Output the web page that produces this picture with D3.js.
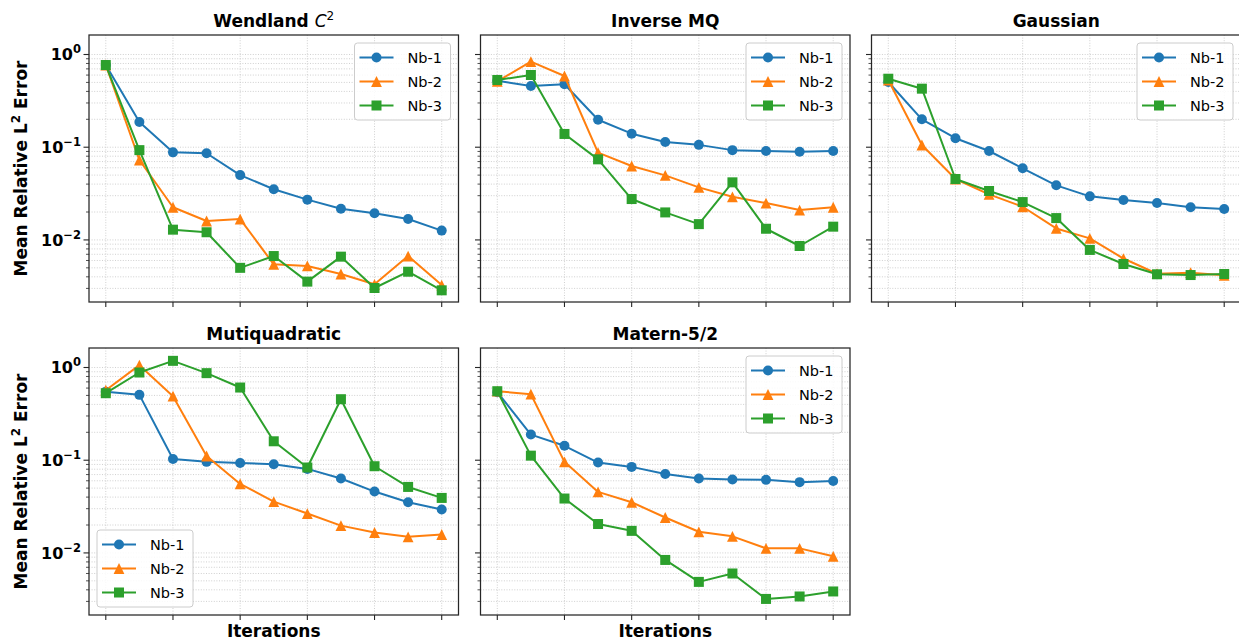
<!DOCTYPE html>
<html>
<head>
<meta charset="utf-8">
<script src="https://cdn.jsdelivr.net/npm/d3@7"></script>
<style>
  body { margin: 0; background: #fff; }
  svg { display: block; }
  text { font-family: "DejaVu Sans", sans-serif; fill: #000; }
</style>
</head>
<body>
<svg id="fig" width="1239" height="641"></svg>
<script>
// ---- data ---------------------------------------------------------------
const iterations = [0, 1, 2, 3, 4, 5, 6, 7, 8, 9, 10];
const xTicks = [0, 2, 4, 6, 8, 10];
const yMajorTicks = [1, 0.1, 0.01];
const yTickExponents = ["0", "\u22121", "\u22122"];
const seriesNames = ["Nb-1", "Nb-2", "Nb-3"];

const wendlandNb1 = [0.77, 0.187, 0.088, 0.086, 0.050, 0.0352, 0.0272, 0.0217, 0.0194, 0.0168, 0.0126];
const wendlandNb2 = [0.77, 0.0728, 0.0225, 0.0160, 0.0168, 0.00545, 0.00524, 0.00429, 0.00332, 0.0067, 0.00326];
const wendlandNb3 = [0.77, 0.093, 0.0129, 0.0121, 0.0050, 0.0067, 0.00355, 0.0066, 0.00303, 0.00454, 0.00286];

const inverseMqNb1 = [0.52, 0.457, 0.477, 0.198, 0.140, 0.114, 0.106, 0.093, 0.091, 0.0895, 0.091];
const inverseMqNb2 = [0.513, 0.837, 0.586, 0.0873, 0.0627, 0.0497, 0.0369, 0.0292, 0.025, 0.021, 0.0225];
const inverseMqNb3 = [0.531, 0.601, 0.139, 0.074, 0.0276, 0.0198, 0.0148, 0.0418, 0.0132, 0.0086, 0.0139];

const gaussianNb1 = [0.505, 0.20, 0.125, 0.091, 0.0592, 0.0388, 0.0295, 0.0269, 0.025, 0.0225, 0.0216];
const gaussianNb2 = [0.53, 0.1057, 0.0454, 0.031, 0.0228, 0.0133, 0.0104, 0.0063, 0.00432, 0.00443, 0.00415];
const gaussianNb3 = [0.548, 0.428, 0.0454, 0.0337, 0.0256, 0.0172, 0.0078, 0.0055, 0.00426, 0.00418, 0.00429];

const multiquadricNb1 = [0.546, 0.507, 0.103, 0.096, 0.0935, 0.0905, 0.0806, 0.0635, 0.0459, 0.0352, 0.0294];
const multiquadricNb2 = [0.569, 1.06, 0.49, 0.111, 0.0555, 0.0358, 0.0266, 0.0197, 0.0166, 0.0149, 0.0158];
const multiquadricNb3 = [0.528, 0.883, 1.18, 0.869, 0.608, 0.160, 0.0834, 0.455, 0.0861, 0.0515, 0.0392];

const maternNb1 = [0.542, 0.189, 0.143, 0.0944, 0.0847, 0.0711, 0.0635, 0.0619, 0.0614, 0.058, 0.0598];
const maternNb2 = [0.555, 0.515, 0.096, 0.0455, 0.0352, 0.0241, 0.0169, 0.0151, 0.0112, 0.0112, 0.0092];
const maternNb3 = [0.555, 0.112, 0.0386, 0.0205, 0.0173, 0.0084, 0.00487, 0.0060, 0.00319, 0.00339, 0.00384];

// ---- layout & style -----------------------------------------------------
const colors = ["#1f77b4", "#ff7f0e", "#2ca02c"];
const markers = ["circle", "triangle", "square"];
const axW = 369.5, axH = 267;
const colLeft = [89, 480.5, 871.5];
const rowTop = [35, 348];

const panels = [
  { title: [["Wendland ", "bold"], ["C", "italic"], ["2", "sup"]], series: [wendlandNb1, wendlandNb2, wendlandNb3], row: 0, col: 0, legend: "upper right" },
  { title: [["Inverse MQ", "bold"]], series: [inverseMqNb1, inverseMqNb2, inverseMqNb3], row: 0, col: 1, legend: "upper right" },
  { title: [["Gaussian", "bold"]], series: [gaussianNb1, gaussianNb2, gaussianNb3], row: 0, col: 2, legend: "upper right" },
  { title: [["Mutiquadratic", "bold"]], series: [multiquadricNb1, multiquadricNb2, multiquadricNb3], row: 1, col: 0, legend: "lower left" },
  { title: [["Matern-5/2", "bold"]], series: [maternNb1, maternNb2, maternNb3], row: 1, col: 1, legend: "upper right" }
];

const svg = d3.select("#fig");

const x = d3.scaleLinear().domain([-0.5, 10.5]).range([0, axW]);
const y = d3.scaleLog().domain([0.00214, 1.623]).range([axH, 0]);

// minor decade ticks inside the visible range
const yMinorTicks = [];
for (let k = -3; k <= 0; k++) {
  for (let m = 2; m <= 9; m++) {
    const v = m * Math.pow(10, k);
    if (v >= y.domain()[0] && v <= y.domain()[1]) yMinorTicks.push(v);
  }
}

function drawMarker(g, type, cx, cy, color) {
  if (type === "circle") {
    g.append("circle").attr("cx", cx).attr("cy", cy).attr("r", 5).attr("fill", color);
  } else if (type === "square") {
    g.append("rect").attr("x", cx - 5).attr("y", cy - 5).attr("width", 10).attr("height", 10).attr("fill", color);
  } else {
    const s = 5.4;
    g.append("path").attr("d", `M${cx},${cy - s}L${cx - s},${cy + s}L${cx + s},${cy + s}Z`).attr("fill", color);
  }
}

const gridStyle = sel => sel.attr("stroke", "#c4c4c4").attr("stroke-width", 0.8).attr("stroke-dasharray", "1,1.6");

panels.forEach(p => {
  const left = colLeft[p.col], top = rowTop[p.row];
  const g = svg.append("g").attr("transform", `translate(${left},${top})`);

  // grid
  const grid = g.append("g");
  yMinorTicks.concat(yMajorTicks).forEach(v => {
    grid.append("line").attr("x1", 0).attr("x2", axW).attr("y1", y(v)).attr("y2", y(v)).call(gridStyle);
  });
  xTicks.forEach(v => {
    grid.append("line").attr("x1", x(v)).attr("x2", x(v)).attr("y1", 0).attr("y2", axH).call(gridStyle);
  });

  // series
  const line = d3.line().x((d, i) => x(iterations[i])).y(d => y(d));
  p.series.forEach((vals, si) => {
    g.append("path").datum(vals).attr("d", line)
      .attr("fill", "none").attr("stroke", colors[si]).attr("stroke-width", 2)
      .attr("stroke-linejoin", "round");
    const mg = g.append("g");
    vals.forEach((v, i) => drawMarker(mg, markers[si], x(iterations[i]), y(v), colors[si]));
  });

  // frame
  g.append("rect").attr("x", 0).attr("y", 0).attr("width", axW).attr("height", axH)
    .attr("fill", "none").attr("stroke", "#262626").attr("stroke-width", 1.25);

  // ticks
  xTicks.forEach(v => {
    g.append("line").attr("x1", x(v)).attr("x2", x(v)).attr("y1", axH).attr("y2", axH + 5)
      .attr("stroke", "#262626").attr("stroke-width", 1.1);
  });
  yMajorTicks.forEach(v => {
    g.append("line").attr("x1", -5.5).attr("x2", 0).attr("y1", y(v)).attr("y2", y(v))
      .attr("stroke", "#262626").attr("stroke-width", 1.1);
  });
  yMinorTicks.forEach(v => {
    g.append("line").attr("x1", -3).attr("x2", 0).attr("y1", y(v)).attr("y2", y(v))
      .attr("stroke", "#262626").attr("stroke-width", 0.8);
  });

  // y tick labels on the left column only
  if (p.col === 0) {
    yMajorTicks.forEach((v, i) => {
      const t = g.append("text").attr("x", -8).attr("y", y(v) + 6).attr("text-anchor", "end")
        .attr("font-size", 16).attr("font-weight", "bold");
      t.append("tspan").text("10");
      t.append("tspan").attr("dy", -7).attr("font-size", 11.5).text(yTickExponents[i]);
    });
    const yl = g.append("text")
      .attr("transform", `translate(${27 - left},${axH / 2}) rotate(-90)`)
      .attr("text-anchor", "middle").attr("font-size", 17).attr("font-weight", "bold");
    yl.append("tspan").text("Mean Relative L");
    yl.append("tspan").attr("dy", -7).attr("font-size", 12).text("2");
    yl.append("tspan").attr("dy", 7).text(" Error");
  }

  // x label on the bottom row
  if (p.row === 1) {
    g.append("text").attr("x", axW / 2).attr("y", 637 - top).attr("text-anchor", "middle")
      .attr("font-size", 17).attr("font-weight", "bold").text("Iterations");
  }

  // title
  const tt = g.append("text").attr("x", axW / 2).attr("y", -8).attr("text-anchor", "middle").attr("font-size", 17);
  p.title.forEach(([txt, kind]) => {
    const sp = tt.append("tspan").text(txt);
    if (kind === "bold") sp.attr("font-weight", "bold");
    if (kind === "italic") sp.attr("font-style", "italic");
    if (kind === "sup") sp.attr("dy", -7).attr("font-size", 12);
  });

  // legend
  const lw = 96, lh = 77, pad = 8;
  const lx = p.legend === "upper right" ? axW - pad - lw : pad;
  const ly = p.legend === "upper right" ? pad : axH - pad - lh;
  const lg = g.append("g").attr("transform", `translate(${lx},${ly})`);
  lg.append("rect").attr("width", lw).attr("height", lh).attr("rx", 3)
    .attr("fill", "#fff").attr("fill-opacity", 0.85).attr("stroke", "#cccccc").attr("stroke-width", 1);
  seriesNames.forEach((name, si) => {
    const ry = 14.5 + si * 24;
    lg.append("line").attr("x1", 5).attr("x2", 39).attr("y1", ry).attr("y2", ry)
      .attr("stroke", colors[si]).attr("stroke-width", 2);
    drawMarker(lg, markers[si], 22, ry, colors[si]);
    lg.append("text").attr("x", 53).attr("y", ry + 5).attr("font-size", 14.5).text(name);
  });
});
</script>
</body>
</html>
